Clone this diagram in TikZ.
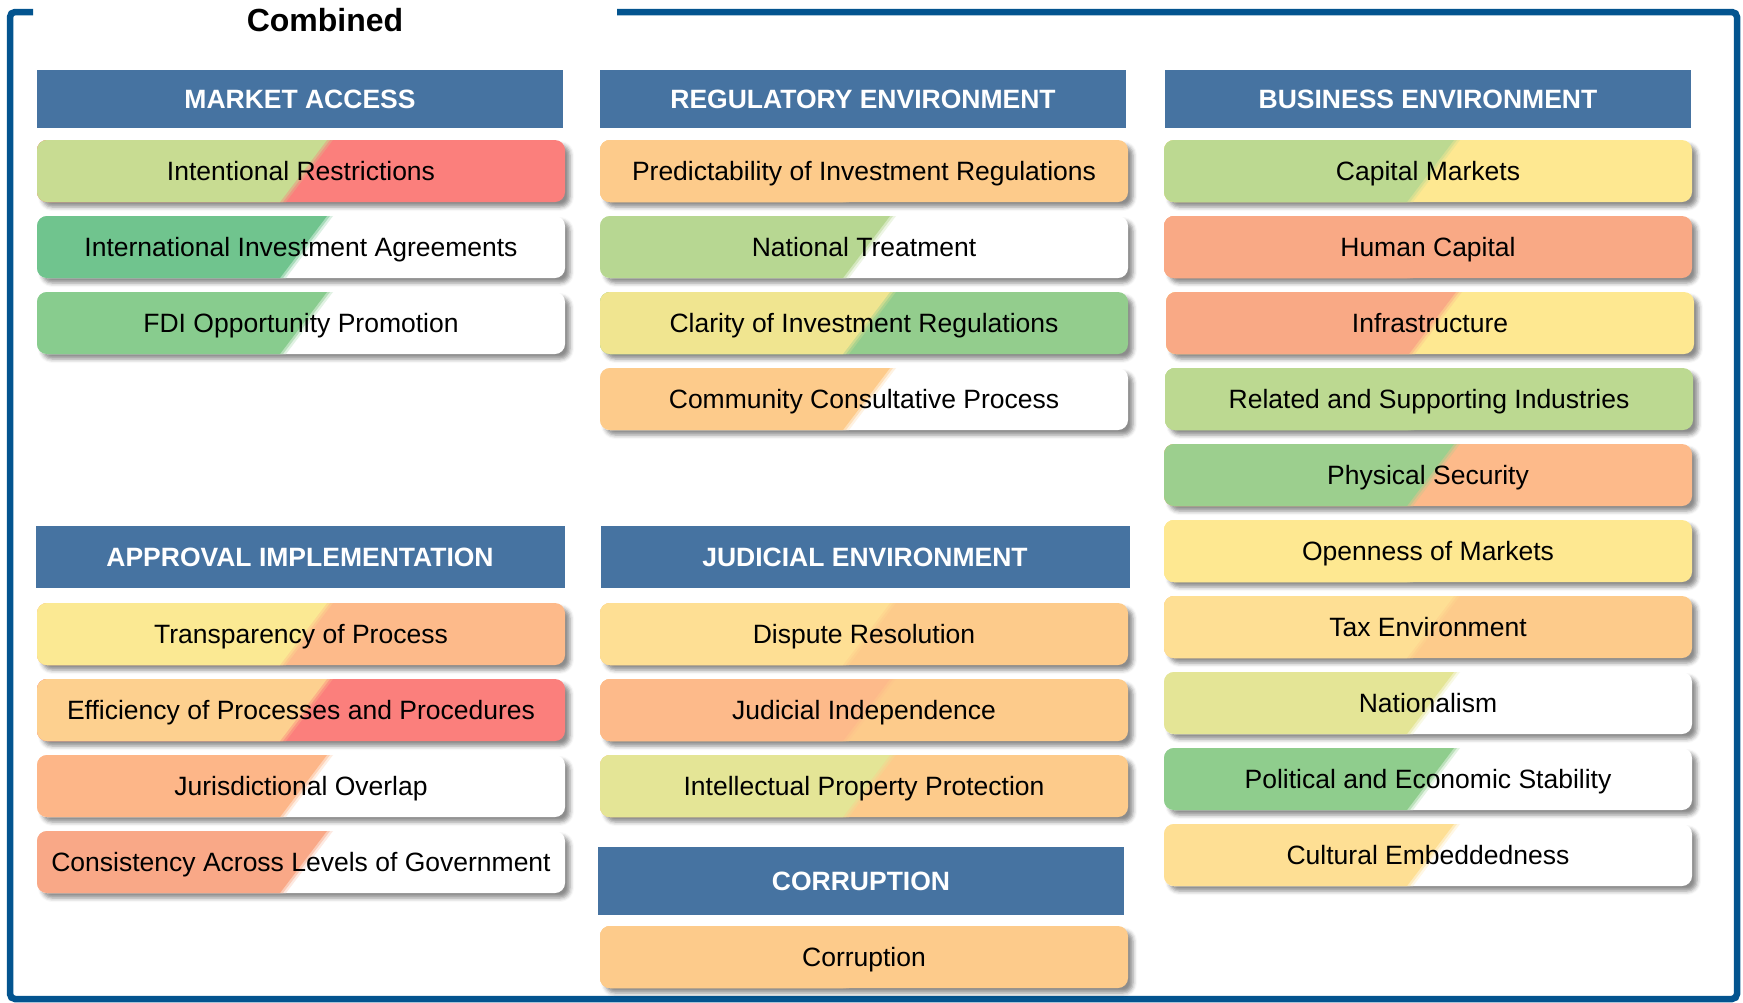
\documentclass[tikz,border=0pt]{standalone}
\usepackage{fontspec}
\setmainfont{Liberation Sans}
\usetikzlibrary{calc,shadows.blur}
\definecolor{frameblue}{HTML}{03548F}
\definecolor{hdrblue}{HTML}{4673A1}
\definecolor{cLime}{HTML}{C8DC92}
\definecolor{cRed}{HTML}{FB7F7C}
\definecolor{cTeal}{HTML}{70C48E}
\definecolor{cFdi}{HTML}{88CC8E}
\definecolor{cPeach}{HTML}{FDCB8B}
\definecolor{cNat}{HTML}{B7D792}
\definecolor{cPale}{HTML}{F0E590}
\definecolor{cClar}{HTML}{93CD8D}
\definecolor{cCap}{HTML}{BCD991}
\definecolor{cLemon}{HTML}{FEE891}
\definecolor{cSalmon}{HTML}{F9A985}
\definecolor{cPhys}{HTML}{9CCF8E}
\definecolor{cApricot}{HTML}{FDBA8A}
\definecolor{cSand}{HTML}{FEDF94}
\definecolor{cOlive}{HTML}{E4E596}
\definecolor{cPol}{HTML}{8FCD8D}
\definecolor{cYel}{HTML}{FBE993}
\definecolor{cEff}{HTML}{FDD08F}
\definecolor{cJur}{HTML}{FDB688}
\definecolor{cCons}{HTML}{F9A887}
\tikzset{
  frameline/.style = {line width=6.5pt,frameblue,rounded corners=5pt},
  header/.style    = {fill=hdrblue,text=white,inner sep=0pt,minimum width=526pt,minimum height=58pt,
                      text height=21pt,text depth=2pt,font=\fontsize{26.5pt}{30pt}\selectfont\bfseries},
  factor/.style 2 args = {fill=#2,rounded corners=10pt,inner sep=0pt,minimum width=528pt,minimum height=62pt,
                      text height=21pt,text depth=2pt,font=\fontsize{26.5pt}{30pt}\selectfont,
                      blur shadow={shadow xshift=5pt,shadow yshift=-5pt,shadow blur radius=4pt,shadow opacity=45},
                      path picture={
                        \fill[#1!25!#2,sharp corners] (path picture bounding box.south west) -- ([xshift=-15pt]path picture bounding box.south)
                          -- ([xshift=32pt]path picture bounding box.north) -- (path picture bounding box.north west) -- cycle;
                        \fill[#1!60!#2,sharp corners] (path picture bounding box.south west) -- ([xshift=-18pt]path picture bounding box.south)
                          -- ([xshift=29pt]path picture bounding box.north) -- (path picture bounding box.north west) -- cycle;
                        \fill[#1,sharp corners] (path picture bounding box.south west) -- ([xshift=-21pt]path picture bounding box.south)
                          -- ([xshift=26pt]path picture bounding box.north) -- (path picture bounding box.north west) -- cycle;
                      }}
}
% name, x, y, left colour, right colour, text
\newcommand{\factorbox}[6]{\node[factor={#4}{#5}] (#1) at (#2,#3) {#6};}

\begin{document}
\begin{tikzpicture}[x=1pt,y=-1pt]
  \useasboundingbox (0,0) rectangle (1743,1002);
  \draw[frameline] (33,12) -| (10,999) -| (1737,12) -- (617,12);
  \node[font=\fontsize{32pt}{36pt}\selectfont\bfseries] (title) at (325,20) {Combined};

  % market access
  \node[header] (market) at (300,99) {MARKET ACCESS};
  \factorbox{restr}{301}{171}{cLime}{cRed}{Intentional Restrictions}
  \factorbox{iia}{301}{247}{cTeal}{white}{International Investment Agreements}
  \factorbox{fdi}{301}{323}{cFdi}{white}{FDI Opportunity Promotion}

  % approval implementation
  \node[header,minimum width=529pt,minimum height=62pt] (approval) at (300,557) {APPROVAL IMPLEMENTATION};
  \factorbox{transp}{301}{634}{cYel}{cApricot}{Transparency of Process}
  \factorbox{effic}{301}{710}{cEff}{cRed}{Efficiency of Processes and Procedures}
  \factorbox{juris}{301}{786}{cJur}{white}{Jurisdictional Overlap}
  \factorbox{consist}{301}{862}{cCons}{white}{Consistency Across Levels of Government}

  % regulatory environment
  \node[header] (regul) at (863,99) {REGULATORY ENVIRONMENT};
  \factorbox{predict}{864}{171}{cPeach}{cPeach}{Predictability of Investment Regulations}
  \factorbox{natl}{864}{247}{cNat}{white}{National Treatment}
  \factorbox{clarity}{864}{323}{cPale}{cClar}{Clarity of Investment Regulations}
  \factorbox{commun}{864}{399}{cPeach}{white}{Community Consultative Process}

  % judicial environment
  \node[header,minimum width=529pt,minimum height=62pt] (judic) at (865,557) {JUDICIAL ENVIRONMENT};
  \factorbox{dispute}{864}{634}{cSand}{cPeach}{Dispute Resolution}
  \factorbox{indep}{864}{710}{cApricot}{cPeach}{Judicial Independence}
  \factorbox{ipp}{864}{786}{cOlive}{cPeach}{Intellectual Property Protection}

  % corruption
  \node[header,minimum height=68pt] (corrupt) at (861,881) {CORRUPTION};
  \factorbox{corrbox}{864}{957}{cPeach}{cPeach}{Corruption}

  % business environment
  \node[header] (busin) at (1428,99) {BUSINESS ENVIRONMENT};
  \factorbox{capital}{1428}{171}{cCap}{cLemon}{Capital Markets}
  \factorbox{human}{1428}{247}{cSalmon}{cSalmon}{Human Capital}
  \factorbox{infra}{1430}{323}{cSalmon}{cLemon}{Infrastructure}
  \factorbox{related}{1429}{399}{cCap}{cCap}{Related and Supporting Industries}
  \factorbox{phys}{1428}{475}{cPhys}{cApricot}{Physical Security}
  \factorbox{open}{1428}{551}{cLemon}{cLemon}{Openness of Markets}
  \factorbox{tax}{1428}{627}{cSand}{cPeach}{Tax Environment}
  \factorbox{nation}{1428}{703}{cOlive}{white}{Nationalism}
  \factorbox{polit}{1428}{779}{cPol}{white}{Political and Economic Stability}
  \factorbox{cultur}{1428}{855}{cSand}{white}{Cultural Embeddedness}
\end{tikzpicture}
\end{document}
